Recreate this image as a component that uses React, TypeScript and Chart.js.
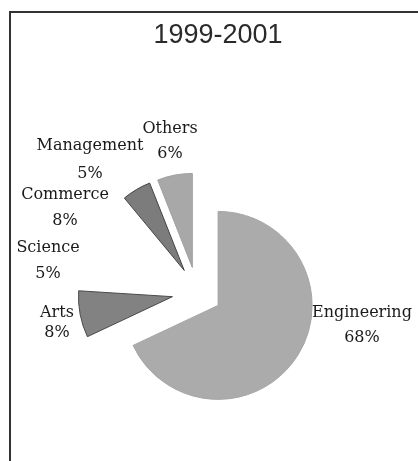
import React, { useEffect, useRef } from "react";
import { Chart, registerables } from "chart.js";

Chart.register(...registerables);

const TITLE = "1999-2001";
const categories = ["Engineering", "Arts", "Science", "Commerce", "Management", "Others"];
const shares = [68, 8, 5, 8, 5, 6];
const percentLabels = ["68%", "8%", "5%", "8%", "5%", "6%"];

const sliceFill = ["#ababab", "#828282", "#ffffff", "#ffffff", "#7c7c7c", "#a8a8a8"];
const sliceEdge = ["#a5a5a5", "#4a4a4a", "#ffffff", "#ffffff", "#444444", "#a0a0a0"];
const EXPLODE = 25;

// label block centre relative to pie centre, in units of the outer radius; gap = line spacing px
const labelPlacement = [
  { dx: 1.755, dy: 0.35, gap: 25 },
  { dx: -1.49, dy: 0.325, gap: 20 },
  { dx: -1.585, dy: -0.335, gap: 26 },
  { dx: -1.404, dy: -0.89, gap: 26 },
  { dx: -1.138, dy: -1.404, gap: 28 },
  { dx: -0.287, dy: -1.606, gap: 25 },
];

const explodePlugin = {
  id: "explodeSlices",
  afterDatasetUpdate(chart: any, args: any) {
    const meta = chart.getDatasetMeta(args.index);
    meta.data.forEach((arc: any) => {
      const mid = (arc.startAngle + arc.endAngle) / 2;
      arc.x += Math.cos(mid) * EXPLODE;
      arc.y += Math.sin(mid) * EXPLODE;
    });
  },
};

const labelPlugin = {
  id: "pieLabels",
  afterDraw(chart: any) {
    const ctx = chart.ctx;
    const area = chart.chartArea;
    const arc = chart.getDatasetMeta(0).data[0] as any;
    if (!arc) return;
    const cx = (area.left + area.right) / 2;
    const cy = (area.top + area.bottom) / 2;
    const R = arc.outerRadius;
    ctx.save();
    // title
    ctx.fillStyle = "#2a2a2a";
    ctx.font = "27px 'Liberation Sans', Arial, sans-serif";
    ctx.textAlign = "center";
    ctx.textBaseline = "alphabetic";
    ctx.fillText(TITLE, 218, 43);
    // slice labels
    ctx.fillStyle = "#1a1a1a";
    ctx.font = "16px 'DejaVu Serif', serif";
    ctx.textBaseline = "middle";
    categories.forEach((name, i) => {
      const p = labelPlacement[i];
      const x = cx + p.dx * R;
      const y = cy + p.dy * R;
      ctx.fillText(name, x, y - p.gap / 2);
      ctx.fillText(percentLabels[i], x, y + p.gap / 2);
    });
    ctx.restore();
  },
};

export default function App() {
  const ref = useRef<HTMLCanvasElement | null>(null);
  useEffect(() => {
    if (!ref.current) return;
    const chart = new Chart(ref.current, {
      type: "pie",
      data: {
        labels: categories,
        datasets: [
          {
            data: shares,
            backgroundColor: sliceFill,
            borderColor: sliceEdge,
            borderWidth: 1,
            hoverBorderWidth: 1,
            offset: 0,
            hoverOffset: 0,
          },
        ],
      },
      options: {
        responsive: false,
        animation: false,
        events: [],
        layout: { padding: { left: 102.5, right: 126.5, top: 197.5, bottom: 74.5 } },
        plugins: {
          legend: { display: false },
          tooltip: { enabled: false },
          title: { display: false },
        },
      },
      plugins: [explodePlugin, labelPlugin],
    });
    return () => chart.destroy();
  }, []);

  return (
    <div
      style={{
        position: "fixed",
        left: 0,
        top: 0,
        width: 418,
        height: 461,
        overflow: "hidden",
        background: "#ffffff",
      }}
    >
      <div
        style={{
          position: "absolute",
          left: 9,
          top: 11,
          width: 600,
          height: 600,
          borderLeft: "2px solid #333",
          borderTop: "2px solid #333",
        }}
      />
      <canvas
        ref={ref}
        width={418}
        height={461}
        style={{ position: "absolute", left: 0, top: 0, width: 418, height: 461 }}
      />
    </div>
  );
}
